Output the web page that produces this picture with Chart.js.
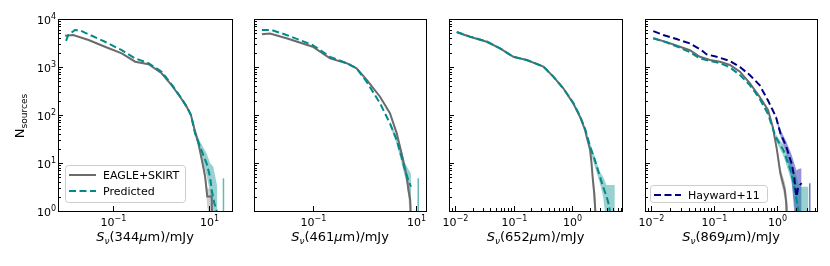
<!DOCTYPE html>
<html lang="en">
<head>
    <meta charset="UTF-8">
    <title>Source counts at 344, 461, 652 and 869 micron</title>
    <script src="https://cdn.jsdelivr.net/npm/chart.js"></script>
    <style>
        body { margin: 0; background: #fff; }
        #wrap { position: relative; width: 830px; height: 266px; overflow: hidden; }
        #wrap canvas { position: absolute; top: 0; }
    </style>
</head>
<body>
<div id="wrap">
    <canvas id="c344" width="240" height="266" style="left:0px"></canvas>
    <canvas id="c461" width="195" height="266" style="left:240px"></canvas>
    <canvas id="c652" width="195" height="266" style="left:435px"></canvas>
    <canvas id="c869" width="200" height="266" style="left:630px"></canvas>
</div>

<script>
    // ---- Data (flux in mJy, number of sources) ----
    const wavelengths = ['344', '461', '652', '869'];
    const yMajorTicks = [1, 10, 100, 1000, 10000];

    // 344 micron
    const flux344Eagle = [0.0100, 0.0148, 0.031, 0.068, 0.152, 0.29, 0.55, 1.03, 1.66, 2.49, 3.43, 4.2, 5.0, 6.0, 7.1, 8.3, 9.2, 11.4, 11.7];
    const n344Eagle    = [4470, 4650, 3650, 2640, 1930, 1290, 1140, 740, 420, 240, 148, 100, 50, 26, 11.5, 5.2, 2.0, 2.0, 0.3];
    const flux344Pred  = [0.0105, 0.0118, 0.0161, 0.0206, 0.031, 0.068, 0.152, 0.29, 0.55, 1.03, 1.8, 2.49, 3.43, 4.2, 5.1, 6.5, 8.9, 10.5, 11.4, 12.9, 14.4, 15.0];
    const n344Pred     = [3500, 4700, 5900, 5800, 4800, 3360, 2240, 1510, 1200, 800, 390, 245, 150, 100, 42, 22, 9.8, 5.2, 2.7, 1.45, 1.05, 0.3];
    const band344PredFlux = [4.2, 5.1, 6.5, 8.9, 10.5, 12.3, 14.9];
    const band344PredLo   = [90, 36, 17, 5.5, 2.5, 0.5, 0.5];
    const band344PredHi   = [110, 50, 28, 16, 10, 8.4, 3.2];
    const band344EagleFlux = [7.1, 8.3, 9.2, 11.4, 11.7];
    const band344EagleLo   = [10, 4, 1.2, 0.5, 0.5];
    const band344EagleHi   = [13, 6.5, 3, 2.8, 2.8];
    const spike344 = [20, 4.8];   // flux, upper count

    // 461 micron
    const flux461Eagle = [0.0103, 0.0148, 0.031, 0.1, 0.217, 0.457, 0.71, 1.12, 2.03, 3.16, 4.27, 5.3, 6.7, 7.2, 7.8, 8.2];
    const n461Eagle    = [4800, 5000, 3970, 2650, 1510, 1200, 940, 540, 240, 109, 42, 16, 5.2, 2.75, 1.7, 0.5];
    const flux461Pred  = [0.0103, 0.0159, 0.031, 0.1, 0.217, 0.457, 0.71, 1.12, 2.03, 3.16, 4.27, 5.3, 6.2, 7.2, 8.1];
    const n461Pred     = [5900, 5900, 4650, 2870, 1630, 1200, 940, 490, 175, 67, 30, 13.5, 7.1, 4.4, 3.2];
    const band461PredFlux = [3.16, 4.27, 5.3, 6.2, 7.2, 8.1];
    const band461PredLo   = [60, 25, 10, 5, 2.8, 1.5];
    const band461PredHi   = [75, 36, 19, 10, 7.5, 6];
    const band461EagleFlux = [4.27, 5.3, 6.7, 7.2, 7.8, 8.3];
    const band461EagleLo   = [38, 13, 4, 2, 0.5, 0.5];
    const band461EagleHi   = [47, 19, 7, 4, 3, 1.5];
    const spike461 = [11.2, 4.8];

    // 652 micron
    const flux652Eagle = [0.0107, 0.018, 0.0348, 0.0589, 0.0995, 0.168, 0.324, 0.479, 0.71, 1.05, 1.37, 1.67, 1.78, 2.04, 2.16, 2.25, 2.4, 2.5, 2.6];
    const n652Eagle    = [5300, 4270, 3360, 2450, 1630, 1400, 1020, 630, 360, 175, 92, 49, 35, 18.6, 9.8, 5.2, 2.3, 1.05, 0.3];
    const flux652Pred  = [0.0107, 0.018, 0.0348, 0.0589, 0.0995, 0.168, 0.324, 0.479, 0.71, 1.05, 1.37, 1.67, 2.04, 2.46, 3.0, 3.4, 3.9, 4.2, 4.4, 4.6];
    const n652Pred     = [5400, 4300, 3400, 2450, 1630, 1400, 1020, 630, 360, 180, 95, 52, 22, 11.5, 5.2, 3.2, 2.0, 1.45, 1.05, 0.4];
    const band652PredFlux = [1.67, 2.04, 2.46, 3.0, 3.4, 3.9, 4.4, 5.4];
    const band652PredLo   = [47, 18, 8.4, 3.8, 2.0, 0.5, 0.5, 0.5];
    const band652PredHi   = [57, 26, 13.5, 6.6, 5.2, 3.5, 3.5, 3.5];
    const band652EagleFlux = [2.16, 2.25, 2.4, 2.5, 2.6];
    const band652EagleLo   = [8, 3.5, 1.2, 0.5, 0.5];
    const band652EagleHi   = [12, 7, 3.5, 2.5, 1.2];

    // 869 micron
    const flux869Eagle = [0.011, 0.0179, 0.029, 0.0417, 0.06, 0.087, 0.125, 0.18, 0.259, 0.37, 0.53, 0.72, 0.86, 0.99, 1.13, 1.33, 1.40, 1.45];
    const n869Eagle    = [3970, 3300, 2650, 2240, 1630, 1400, 1290, 1100, 800, 460, 240, 127, 55, 20, 6.1, 2.7, 1.45, 0.5];
    const flux869Pred  = [0.011, 0.0179, 0.029, 0.0417, 0.06, 0.087, 0.125, 0.18, 0.259, 0.37, 0.53, 0.72, 0.95, 1.26, 1.5, 1.7, 1.87, 2.04, 2.17, 2.3];
    const n869Pred     = [3970, 3250, 2520, 2030, 1510, 1330, 1200, 980, 680, 420, 220, 105, 35, 18.6, 9.8, 6.1, 3.2, 1.7, 1.05, 0.4];
    const flux869Hay   = [0.011, 0.0158, 0.0257, 0.0417, 0.064, 0.077, 0.111, 0.18, 0.259, 0.37, 0.53, 0.72, 0.96, 1.13, 1.40, 1.70, 1.87, 1.97, 2.04, 2.17, 2.45];
    const n869Hay      = [5600, 4650, 3830, 3100, 2240, 1830, 1630, 1330, 1000, 680, 420, 200, 92, 42, 22, 9.8, 5.2, 2.7, 2.0, 3.2, 3.8];
    const band869PredFlux = [0.95, 1.26, 1.5, 1.7, 1.87, 2.04, 2.17, 2.3, 3.15];
    const band869PredLo   = [30, 14, 7, 4, 1.5, 0.5, 0.5, 0.5, 0.5];
    const band869PredHi   = [40, 24, 13, 9.8, 7, 5.2, 3.8, 3.2, 3.2];
    const band869HayFlux = [0.96, 1.13, 1.4, 1.7, 1.87, 2.04, 2.17, 2.45];
    const band869HayLo   = [82, 36, 16, 4.4, 1.0, 0.5, 0.5, 0.5];
    const band869HayHi   = [102, 50, 28, 15, 10, 7, 7.5, 7.8];
    const band869EagleFlux = [0.99, 1.13, 1.33, 1.40, 1.5];
    const band869EagleLo   = [15, 4.5, 1.8, 0.5, 0.5];
    const band869EagleHi   = [24, 8, 4, 2.5, 1.2];
    const spike869 = [3.3, 3.8];

    // ---- Styles ----
    const GRAY = '#6b6b6b', TEAL = '#008b8b', NAVY = '#000080';
    const GRAY_BAND = 'rgba(120,120,120,0.35)';
    const TEAL_BAND = 'rgba(0,139,139,0.4)';
    const NAVY_BAND = 'rgba(20,20,170,0.45)';
    const FONT = '"DejaVu Sans", sans-serif';

    const pts = (xs, ys) => xs.map((x, i) => ({ x: x, y: ys[i] }));

    function buildDatasets(spec) {
        const sets = [];
        spec.bands.forEach(b => {
            const loIndex = sets.length;
            sets.push({ data: pts(b.flux, b.lo), borderWidth: 0, pointRadius: 0, fill: false, order: 20 });
            sets.push({ data: pts(b.flux, b.hi), borderWidth: 0, pointRadius: 0,
                        fill: { target: loIndex }, backgroundColor: b.color, order: 20 });
        });
        (spec.spikes || []).forEach(s => {
            sets.push({ data: [{ x: s.at[0], y: s.at[1] }, { x: s.at[0], y: 0.3 }],
                        borderColor: s.color, borderWidth: 1.5, pointRadius: 0, fill: false, order: 15 });
        });
        spec.lines.forEach((l, i) => {
            sets.push({ label: l.label, data: pts(l.flux, l.n), borderColor: l.color, borderWidth: 2,
                        borderDash: l.dash || [], pointRadius: 0, fill: false, tension: 0, order: 5 - i });
        });
        return sets;
    }

    // superscript power-of-ten tick label
    function powLabel(ctx, exp, x, baseY, align) {
        const base = '10';
        const sup = exp < 0 ? '\u2212' + (-exp) : String(exp);
        ctx.font = '11px ' + FONT;
        const wb = ctx.measureText(base).width;
        ctx.font = '8px ' + FONT;
        const ws = ctx.measureText(sup).width;
        const x0 = align === 'right' ? x - wb - ws : x - (wb + ws) / 2;
        ctx.textAlign = 'left';
        ctx.textBaseline = 'alphabetic';
        ctx.font = '11px ' + FONT;
        ctx.fillText(base, x0, baseY);
        ctx.font = '8px ' + FONT;
        ctx.fillText(sup, x0 + wb, baseY - 5);
    }

    // text made of styled pieces, centred on cx
    function richText(ctx, parts, cx, baseY) {
        let w = 0;
        parts.forEach(p => { ctx.font = p.font; w += ctx.measureText(p.t).width; });
        let x = cx - w / 2;
        ctx.textAlign = 'left';
        ctx.textBaseline = 'alphabetic';
        parts.forEach(p => {
            ctx.font = p.font;
            ctx.fillText(p.t, x, baseY + (p.dy || 0));
            x += ctx.measureText(p.t).width;
        });
    }

    const decor = {
        id: 'decor',
        afterDatasetsDraw(chart, args, opts) {
            const { ctx, chartArea: a, scales: { x, y } } = chart;
            ctx.save();
            ctx.strokeStyle = '#000';
            ctx.fillStyle = '#000';
            ctx.lineWidth = 1;

            const tick = (x1, y1, x2, y2) => { ctx.beginPath(); ctx.moveTo(x1, y1); ctx.lineTo(x2, y2); ctx.stroke(); };

            // y ticks (inward, left side)
            for (let d = 0; d < 4; d++) {
                for (let m = 2; m <= 9; m++) {
                    const py = Math.round(y.getPixelForValue(m * Math.pow(10, d))) + 0.5;
                    tick(a.left, py, a.left + 3, py);
                }
            }
            yMajorTicks.forEach(v => {
                const py = Math.round(y.getPixelForValue(v)) + 0.5;
                tick(a.left, py, a.left + 5, py);
                if (opts.yLabels) powLabel(ctx, Math.round(Math.log10(v)), a.left - 2, py + 4, 'right');
            });

            // x ticks (inward, bottom)
            if (opts.xMinor) {
                const lo = Math.floor(Math.log10(x.min)), hi = Math.ceil(Math.log10(x.max));
                for (let d = lo; d < hi; d++) {
                    for (let m = 2; m <= 9; m++) {
                        const v = m * Math.pow(10, d);
                        if (v <= x.min || v >= x.max) continue;
                        const px = Math.round(x.getPixelForValue(v)) + 0.5;
                        tick(px, a.bottom, px, a.bottom - 3);
                    }
                }
            }
            opts.xMajor.forEach(v => {
                const px = Math.round(x.getPixelForValue(v)) + 0.5;
                tick(px, a.bottom, px, a.bottom - 5);
                powLabel(ctx, Math.round(Math.log10(v)), px, 226, 'center');
            });

            // frame
            ctx.strokeRect(Math.round(a.left) + 0.5, Math.round(a.top) + 0.5,
                           Math.round(a.right - a.left), Math.round(a.bottom - a.top));

            // x title
            const it = 'italic 13px ' + FONT, rm = '13px ' + FONT;
            richText(ctx, [
                { t: 'S', font: it },
                { t: '\u03bd', font: 'italic 9px ' + FONT, dy: 3 },
                { t: '(' + opts.wave, font: rm },
                { t: '\u03bc', font: it },
                { t: 'm)/mJy', font: rm }
            ], (a.left + a.right) / 2, 241);

            // y title
            if (opts.yTitle) {
                ctx.save();
                ctx.translate(24, 116);
                ctx.rotate(-Math.PI / 2);
                richText(ctx, [
                    { t: 'N', font: '13px ' + FONT },
                    { t: 'sources', font: '9px ' + FONT, dy: 3 }
                ], 0, 0);
                ctx.restore();
            }

            // legend box (x measured from the chart area's left edge)
            if (opts.legend) {
                const L = opts.legend;
                const lx = Math.round(a.left) + L.dx;
                ctx.fillStyle = 'rgba(255,255,255,0.8)';
                ctx.strokeStyle = '#cccccc';
                ctx.beginPath();
                ctx.roundRect(lx + 0.5, L.y + 0.5, L.w, L.h, 3);
                ctx.fill();
                ctx.stroke();
                L.items.forEach((idx, i) => {
                    const ds = chart.data.datasets[idx];
                    const cy = L.y + 10 + i * 16;
                    ctx.strokeStyle = ds.borderColor;
                    ctx.lineWidth = 2;
                    ctx.setLineDash(ds.borderDash || []);
                    tick(lx + 4, cy, lx + 31, cy);
                    ctx.setLineDash([]);
                    ctx.fillStyle = '#000';
                    ctx.font = '11px ' + FONT;
                    ctx.textAlign = 'left';
                    ctx.textBaseline = 'middle';
                    ctx.fillText(ds.label, lx + 38, cy + 1);
                });
            }
            ctx.restore();
        }
    };

    function makeChart(id, spec, range, pad, opts) {
        new Chart(document.getElementById(id), {
            type: 'line',
            data: { datasets: buildDatasets(spec) },
            options: {
                responsive: false,
                animation: false,
                events: [],
                layout: { padding: { left: pad[0], right: pad[1], top: 19, bottom: 55 } },
                scales: {
                    x: { type: 'logarithmic', min: Math.pow(10, range[0]), max: Math.pow(10, range[1]), display: false },
                    y: { type: 'logarithmic', min: 1, max: 10000, display: false }
                },
                plugins: { legend: { display: false }, tooltip: { enabled: false }, decor: opts }
            },
            plugins: [decor]
        });
    }

    const dash = [7, 3.5];

    // Panel 1 (lines are the last datasets: eagle = 5, pred = 6)
    makeChart('c344', {
        bands: [
            { flux: band344EagleFlux, lo: band344EagleLo, hi: band344EagleHi, color: GRAY_BAND },
            { flux: band344PredFlux, lo: band344PredLo, hi: band344PredHi, color: TEAL_BAND }
        ],
        spikes: [{ at: spike344, color: 'rgba(0,139,139,0.6)' }],
        lines: [
            { flux: flux344Eagle, n: n344Eagle, color: GRAY, label: 'EAGLE+SKIRT' },
            { flux: flux344Pred, n: n344Pred, color: TEAL, dash: dash, label: 'Predicted' }
        ]
    }, [-2.146, 1.479], [58, 8],
       { wave: wavelengths[0], yLabels: true, yTitle: true, xMinor: false, xMajor: [0.1, 10],
         legend: { dx: 7, y: 165, w: 120, h: 37, items: [5, 6] } });

    makeChart('c461', {
        bands: [
            { flux: band461EagleFlux, lo: band461EagleLo, hi: band461EagleHi, color: GRAY_BAND },
            { flux: band461PredFlux, lo: band461PredLo, hi: band461PredHi, color: TEAL_BAND }
        ],
        spikes: [{ at: spike461, color: 'rgba(0,139,139,0.6)' }],
        lines: [
            { flux: flux461Eagle, n: n461Eagle, color: GRAY, label: 'EAGLE+SKIRT' },
            { flux: flux461Pred, n: n461Pred, color: TEAL, dash: dash, label: 'Predicted' }
        ]
    }, [-2.140, 1.200], [14, 9],
       { wave: wavelengths[1], xMinor: false, xMajor: [0.1, 10] });

    makeChart('c652', {
        bands: [
            { flux: band652EagleFlux, lo: band652EagleLo, hi: band652EagleHi, color: GRAY_BAND },
            { flux: band652PredFlux, lo: band652PredLo, hi: band652PredHi, color: TEAL_BAND }
        ],
        lines: [
            { flux: flux652Eagle, n: n652Eagle, color: GRAY, label: 'EAGLE+SKIRT' },
            { flux: flux652Pred, n: n652Pred, color: TEAL, dash: dash, label: 'Predicted' }
        ]
    }, [-2.103, 0.855], [14, 8],
       { wave: wavelengths[2], xMinor: true, xMajor: [0.01, 0.1, 1] });

    // Panel 4 (bands 0-5, spike 6, lines 7-9)
    makeChart('c869', {
        bands: [
            { flux: band869EagleFlux, lo: band869EagleLo, hi: band869EagleHi, color: GRAY_BAND },
            { flux: band869PredFlux, lo: band869PredLo, hi: band869PredHi, color: TEAL_BAND },
            { flux: band869HayFlux, lo: band869HayLo, hi: band869HayHi, color: NAVY_BAND }
        ],
        spikes: [{ at: spike869, color: 'rgba(20,20,170,0.6)' }],
        lines: [
            { flux: flux869Eagle, n: n869Eagle, color: GRAY, label: 'EAGLE+SKIRT' },
            { flux: flux869Pred, n: n869Pred, color: TEAL, dash: dash, label: 'Predicted' },
            { flux: flux869Hay, n: n869Hay, color: NAVY, dash: dash, label: 'Hayward+11' }
        ]
    }, [-2.090, 0.633], [15, 13],
       { wave: wavelengths[3], xMinor: true, xMajor: [0.01, 0.1, 1],
         legend: { dx: 5, y: 185, w: 117, h: 17, items: [9] } });
</script>
</body>
</html>
